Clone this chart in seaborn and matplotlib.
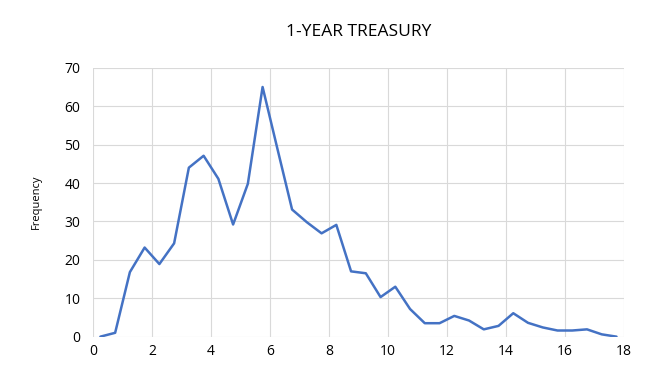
import matplotlib
matplotlib.use("Agg")
import matplotlib.pyplot as plt
import seaborn as sns
import pandas as pd

bin_centers = [0.25, 0.75, 1.25, 1.75, 2.25, 2.75, 3.25, 3.75, 4.25, 4.75,
               5.25, 5.75, 6.25, 6.75, 7.25, 7.75, 8.25, 8.75, 9.25, 9.75,
               10.25, 10.75, 11.25, 11.75, 12.25, 12.75, 13.25, 13.75, 14.25, 14.75,
               15.25, 15.75, 16.25, 16.75, 17.25, 17.75]
frequency = [0, 1, 16.8, 23.2, 18.9, 24.3, 44, 47.1, 41.1, 29.2,
             39.8, 65, 49, 33.1, 29.8, 26.9, 29.1, 17, 16.5, 10.3,
             13, 7.2, 3.5, 3.5, 5.4, 4.2, 1.9, 2.8, 6.1, 3.6,
             2.4, 1.6, 1.6, 1.9, 0.6, 0]
x_ticks = [0, 2, 4, 6, 8, 10, 12, 14, 16, 18]
y_ticks = [0, 10, 20, 30, 40, 50, 60, 70]
title = "1-YEAR TREASURY"
y_label = "Frequency"

df = pd.DataFrame({"x": bin_centers, "freq": frequency})

sns.set_style("whitegrid")
plt.rcParams['font.family'] = ['Open Sans', 'DejaVu Sans']

fig = plt.figure(figsize=(6.56, 3.91), dpi=100)
ax = fig.add_axes([0.1418, 0.139, 0.8092, 0.6876])

sns.lineplot(data=df, x="x", y="freq", ax=ax, color="#4472C4", linewidth=1.8)

ax.set_xlim(0, 18)
ax.set_ylim(0, 70)
ax.set_xticks(x_ticks)
ax.set_yticks(y_ticks)
ax.grid(True, color="#d9d9d9", linewidth=0.8)
for s in ax.spines.values():
    s.set_visible(False)
ax.tick_params(axis="both", length=0, labelsize=10, labelcolor="#000000")
ax.tick_params(axis="y", pad=9)
ax.tick_params(axis="x", pad=5)
ax.set_xlabel("")
ax.set_ylabel(y_label, fontsize=8, labelpad=16, color="#000000")
ax.set_title(title, fontsize=12.5, pad=23, color="#000000")
ax.margins(0)

fig.savefig("out.png", dpi=100)
